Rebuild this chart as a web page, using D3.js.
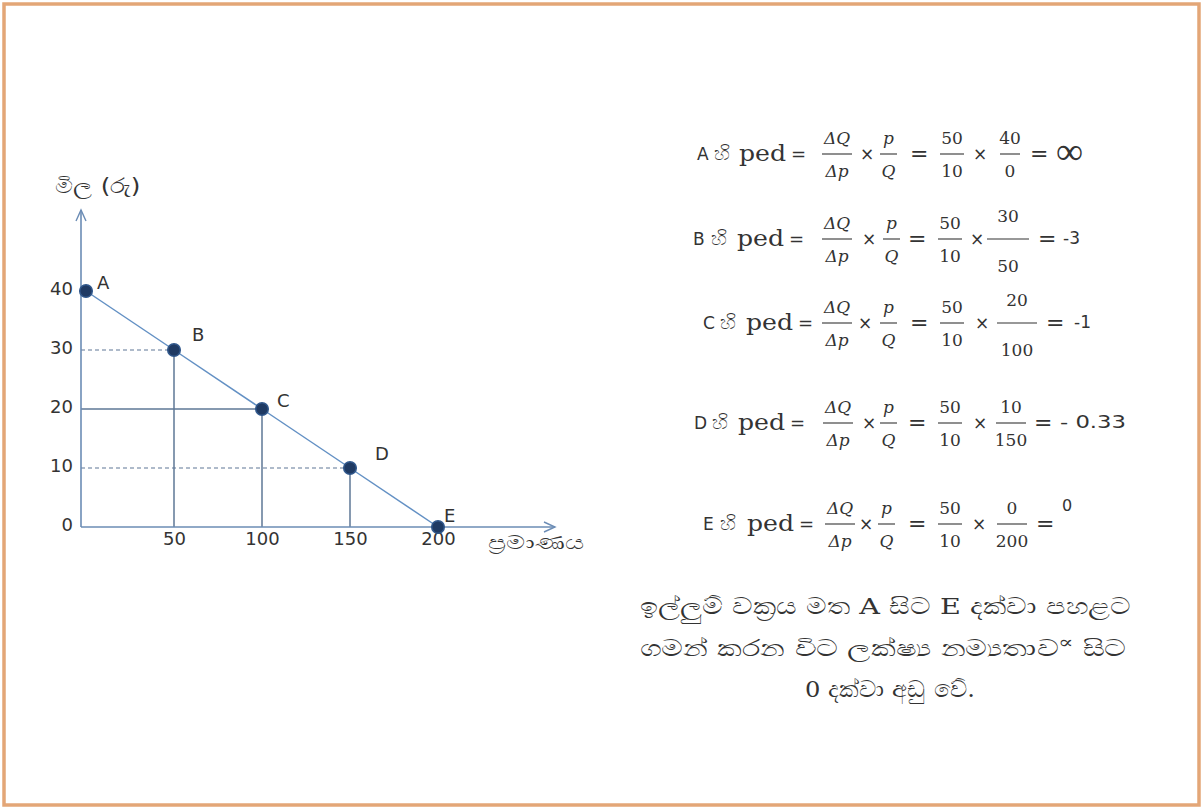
<!DOCTYPE html>
<html><head><meta charset="utf-8">
<script src="https://cdn.jsdelivr.net/npm/d3@7"></script>
<style>body{margin:0;background:#fff;overflow:hidden}</style>
</head><body>
<svg id="c" width="1203" height="809"></svg>
<script>
// ---------- data ----------
const pointLabels = ["A", "B", "C", "D", "E"];
const quantities = [0, 50, 100, 150, 200];
const prices = [40, 30, 20, 10, 0];
const xTicks = [50, 100, 150, 200];
const yTicks = [0, 10, 20, 30, 40];
const dashedPrices = [30, 10];
const solidPrices = [20];
const slopeNum = "50", slopeDen = "10";
const results = ["∞", "-3", "-1", "- 0.33", "0"];
const yTitle = "මිල (රු)";
const xTitle = "ප්‍රමාණය";
const hiWord = "හි";
const pedWord = "ped";
const noteLines = [
  "ඉල්ලුම් වක්‍රය මත A සිට E දක්වා පහළට",
  "ගමන් කරන විට ලක්ෂ්‍ය නම්‍යතාව∝ සිට",
  "0 දක්වා අඩු වේ."
];

// ---------- layout ----------
const W = 1203, H = 809;
const svg = d3.select("#c");
const sansFont = "'DejaVu Sans', 'Noto Sans', sans-serif";
const serifFont = "'DejaVu Serif', 'Liberation Serif', serif";
const txtColor = "#333";

svg.append("rect").attr("x", 4).attr("y", 4).attr("width", W - 8).attr("height", H - 8)
  .attr("fill", "#fff").attr("stroke", "#E3A677").attr("stroke-width", 3.5);

function fitWidth(sel, x0, targetW) {
  const bb = sel.node().getBBox();
  const s = targetW / bb.width;
  sel.attr("transform", `translate(${x0},0) scale(${s},1) translate(${-bb.x},0)`);
}

const x = d3.scaleLinear().domain([0, 200]).range([86, 438]);
const y = d3.scaleLinear().domain([0, 40]).range([527, 291]);
const axisX = x(0) - 5, axisY = y(0);
const axisColor = "#6B8CB5", guideColor = "#5E7796";

const chart = svg.append("g");

// guides
chart.selectAll("line.hd").data(dashedPrices).join("line")
  .attr("x1", axisX).attr("x2", p => x(quantities[prices.indexOf(p)]))
  .attr("y1", p => y(p)).attr("y2", p => y(p))
  .attr("stroke", guideColor).attr("stroke-width", 1.2).attr("stroke-dasharray", "4,3");
chart.selectAll("line.hs").data(solidPrices).join("line")
  .attr("x1", axisX).attr("x2", p => x(quantities[prices.indexOf(p)]))
  .attr("y1", p => y(p)).attr("y2", p => y(p))
  .attr("stroke", guideColor).attr("stroke-width", 1.5);
const drops = quantities.map((q, i) => ({q, p: prices[i]})).filter(d => d.q > 0 && d.p > 0);
chart.selectAll("line.v").data(drops).join("line")
  .attr("x1", d => x(d.q)).attr("x2", d => x(d.q))
  .attr("y1", d => y(d.p)).attr("y2", axisY)
  .attr("stroke", guideColor).attr("stroke-width", 1.5);

// axes lines with arrows
chart.append("line").attr("x1", axisX).attr("x2", axisX).attr("y1", axisY).attr("y2", 210)
  .attr("stroke", axisColor).attr("stroke-width", 1.6);
chart.append("path").attr("d", `M${axisX - 5},${221} L${axisX},${210} L${axisX + 5},${221}`)
  .attr("fill", "none").attr("stroke", axisColor).attr("stroke-width", 1.4);
chart.append("line").attr("x1", axisX).attr("x2", 555).attr("y1", axisY).attr("y2", axisY)
  .attr("stroke", axisColor).attr("stroke-width", 1.6);
chart.append("path").attr("d", `M${544},${axisY - 5} L${555},${axisY} L${544},${axisY + 5}`)
  .attr("fill", "none").attr("stroke", axisColor).attr("stroke-width", 1.4);

// tick labels via d3 axes
const xa = chart.append("g").attr("transform", `translate(0,${axisY})`)
  .call(d3.axisBottom(x).tickValues(xTicks).tickSize(0).tickPadding(5));
const ya = chart.append("g").attr("transform", `translate(${axisX},0)`)
  .call(d3.axisLeft(y).tickValues(yTicks).tickSize(0).tickPadding(8));
[xa, ya].forEach(a => {
  a.select(".domain").remove();
  a.selectAll("text").attr("font-family", sansFont).attr("font-size", 18).attr("fill", txtColor);
});
ya.selectAll("text").attr("dy", "0.2em");

// demand line
const pts = quantities.map((q, i) => ({q, p: prices[i], label: pointLabels[i]}));
chart.append("path").datum(pts)
  .attr("d", d3.line().x(d => x(d.q)).y(d => y(d.p)))
  .attr("fill", "none").attr("stroke", "#6390C4").attr("stroke-width", 1.5);

// markers
chart.selectAll("circle").data(pts).join("circle")
  .attr("cx", d => x(d.q)).attr("cy", d => y(d.p)).attr("r", 6.3)
  .attr("fill", "#1F3A63").attr("stroke", "#31588C").attr("stroke-width", 1.5);

const labelOffsets = [[11, -2], [18, -9], [15, -2], [25, -8], [6, -5]];
chart.selectAll("text.pl").data(pts).join("text")
  .attr("x", (d, i) => x(d.q) + labelOffsets[i][0])
  .attr("y", (d, i) => y(d.p) + labelOffsets[i][1])
  .attr("font-family", sansFont).attr("font-size", 18).attr("fill", txtColor)
  .text(d => d.label);

// axis titles
const yt = chart.append("g");
yt.append("text").attr("y", 193).attr("font-family", sansFont)
  .attr("font-size", 21).attr("fill", txtColor).text(yTitle);
fitWidth(yt, 55, 85);
const xt = chart.append("g");
xt.append("text").attr("y", 549).attr("font-family", sansFont)
  .attr("font-size", 19).attr("fill", txtColor).text(xTitle);
fitWidth(xt, 488, 95);

// ---------- formulas ----------
const rowAxis = [154, 239, 323, 423, 524];
// element left edges: label, hi, ped, =, frac1, x, frac2, =, frac3, x, frac4, =, result
const rowX = [
  [697, 714, 739, 791, 822, 860, 880, 910, 940, 973, 1000, 1030, 1056],
  [693, 711, 737, 789, 822, 862, 883, 908, 938, 970, 987, 1038, 1063],
  [703, 720, 746, 798, 822, 858, 880, 910, 940, 975, 997, 1046, 1074],
  [694, 712, 738, 790, 823, 862, 880, 908, 938, 973, 996, 1034, 1060],
  [703, 720, 747, 799, 825, 859, 878, 908, 938, 972, 997, 1036, 1062]
];
const lastFracW = [20, 42, 40, 30, 30];
const lastTall = [false, true, true, false, false];

const fg = svg.append("g");
function buildRow(i) {
  const g = fg.append("g");
  const a = rowAxis[i];
  const X = rowX[i];
  function txt(str, xx, family, size, dy, tl) {
    const t = g.append("text").attr("x", xx).attr("y", a + dy)
      .attr("font-family", family).attr("font-size", size).attr("fill", txtColor).text(str);
    if (tl) t.attr("textLength", tl).attr("lengthAdjust", "spacingAndGlyphs");
    return t;
  }
  function frac(num, den, xx, w, italic, tall) {
    const c = xx + w / 2;
    [[num, tall ? -17 : -10], [den, tall ? 33 : 23]].forEach(([s, dy]) => {
      g.append("text").attr("x", c).attr("y", a + dy)
        .attr("font-family", serifFont).attr("font-size", 17)
        .attr("font-style", italic ? "italic" : "normal")
        .attr("text-anchor", "middle").attr("fill", txtColor).text(s);
    });
    g.append("line").attr("x1", xx).attr("x2", xx + w).attr("y1", a).attr("y2", a)
      .attr("stroke", txtColor).attr("stroke-width", 1.1);
  }
  txt(pointLabels[i], X[0], sansFont, 17, 6);
  txt(hiWord, X[1], sansFont, 20, 6);
  txt(pedWord, X[2], serifFont, 23, 7, 47);
  txt("=", X[3], sansFont, 18, 6);
  frac("ΔQ", "Δp", X[4], 30, true, false);
  txt("×", X[5], sansFont, 17, 6);
  frac("p", "Q", X[6], 17, true, false);
  txt("=", X[7], serifFont, 22, 7);
  frac(slopeNum, slopeDen, X[8], 24, false, false);
  txt("×", X[9], sansFont, 17, 6);
  frac(String(prices[i]), String(quantities[i]), X[10], lastFracW[i], false, lastTall[i]);
  txt("=", X[11], serifFont, 22, 7);
  if (i === 0) txt(results[i], X[12], "'Liberation Serif', serif", 38, 10);
  else if (i === 4) txt(results[i], X[12], sansFont, 16, -13);
  else if (i === 3) txt(results[i], X[12], sansFont, 17, 5, 66);
  else txt(results[i], X[12], sansFont, 17, 5);
}
pointLabels.forEach((d, i) => buildRow(i));

// ---------- note ----------
const noteY = [614, 656, 697];
const noteSpan = [[640, 495], [640, 497], [805, 170]];
noteLines.forEach((line, i) => {
  const g = svg.append("g");
  const t = g.append("text").attr("y", noteY[i])
    .attr("font-family", serifFont).attr("font-size", 23).attr("fill", txtColor);
  const parts = line.split("∝");
  t.append("tspan").text(parts[0]);
  if (parts.length > 1) {
    t.append("tspan").attr("dy", -8).attr("font-size", 17).text("∝");
    t.append("tspan").attr("dy", 8).text(parts[1]);
  }
  fitWidth(g, noteSpan[i][0], noteSpan[i][1]);
});
</script>
</body></html>
